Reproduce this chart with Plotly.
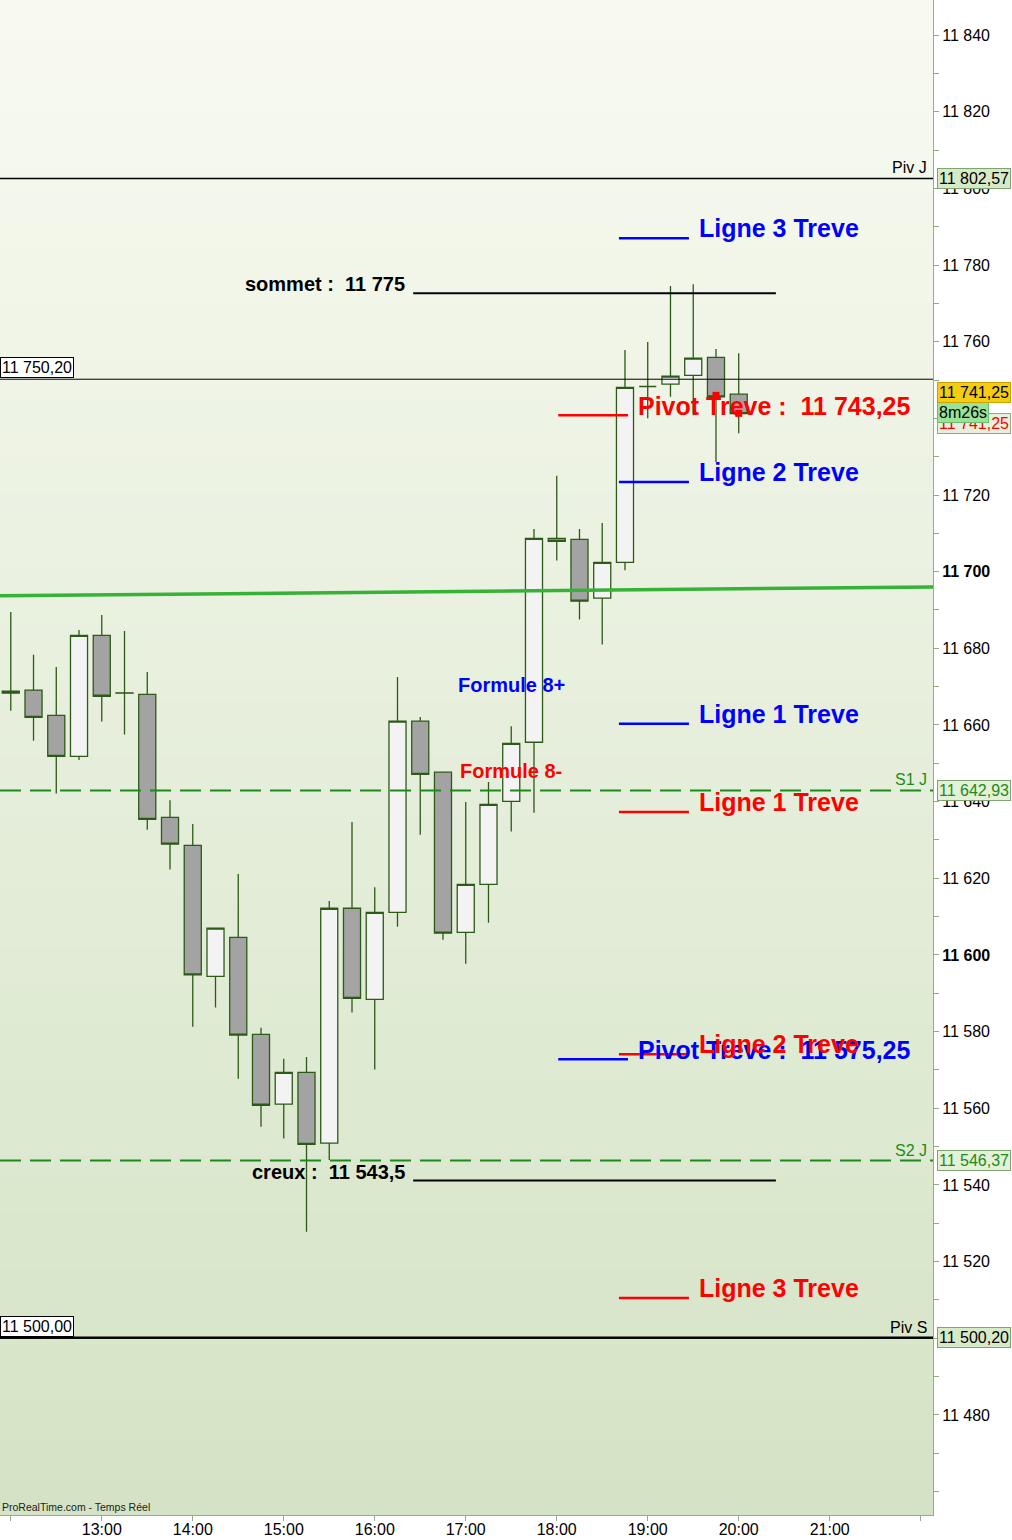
import plotly.graph_objects as go
import pandas as pd

DAY = "2024-01-02 "

# ---------------- data ----------------
candle_times = pd.date_range(DAY + "12:00", periods=33, freq="15min")
opens  = [11668.3, 11669.1, 11662.5, 11651.8, 11683.4, 11668.4, 11668.0, 11635.9,
          11628.6, 11594.4, 11604.6, 11579.3, 11561.1, 11569.4, 11550.9, 11612.2,
          11588.4, 11611.1, 11661.0, 11647.7, 11605.9, 11618.4, 11640.1, 11655.5,
          11708.7, 11708.4, 11693.1, 11702.4, 11748.3, 11748.9, 11751.2, 11755.9, 11746.3]
highs  = [11689.5, 11678.3, 11675.1, 11684.8, 11688.7, 11684.5, 11673.8, 11640.4,
          11634.2, 11607.2, 11621.1, 11581.0, 11572.9, 11573.4, 11614.1, 11634.7,
          11617.7, 11672.5, 11662.1, 11647.9, 11639.9, 11645.1, 11659.7, 11711.1,
          11725.0, 11711.1, 11712.7, 11757.8, 11759.9, 11774.5, 11775.0, 11758.1, 11757.0]
lows   = [11663.7, 11655.9, 11642.1, 11650.9, 11660.9, 11657.5, 11632.7, 11622.3,
          11581.3, 11586.3, 11567.7, 11555.2, 11552.1, 11527.8, 11546.5, 11585.0,
          11570.1, 11607.4, 11631.4, 11604.0, 11597.7, 11608.4, 11632.2, 11637.1,
          11702.9, 11687.5, 11681.0, 11700.4, 11740.0, 11745.6, 11740.8, 11728.6, 11736.1]
closes = [11668.8, 11662.0, 11651.8, 11683.4, 11667.5, 11668.3, 11635.4, 11628.9,
          11594.8, 11607.0, 11579.1, 11560.8, 11569.4, 11550.6, 11612.2, 11588.7,
          11611.1, 11661.0, 11647.1, 11605.7, 11618.4, 11639.3, 11655.2, 11708.7,
          11707.9, 11692.3, 11702.4, 11748.1, 11748.3, 11751.0, 11755.7, 11745.6, 11741.25]

# red markers on last candles
marker_times = [DAY + "19:45", DAY + "20:00"]
marker_values = [11746.0, 11741.3]

# daily pivots (right labels)
piv_names  = ["Piv J", "S1 J", "S2 J", "Piv S"]
piv_values = [11802.57, 11642.93, 11546.37, 11500.20]
piv_texts  = ["11 802,57", "11 642,93", "11 546,37", "11 500,20"]

# left boxed levels
left_values = [11750.20, 11500.00]
left_texts  = ["11 750,20", "11 500,00"]

# green trend line (left edge, right edge)
trend_values = [11693.7, 11696.0]

# Treve levels
treve_labels = ["Ligne 3 Treve", "Ligne 2 Treve", "Ligne 1 Treve",
                "Ligne 1 Treve", "Ligne 2 Treve", "Ligne 3 Treve"]
treve_values = [11787.0, 11723.4, 11660.3, 11637.3, 11574.1, 11510.5]
treve_sides  = ["up", "up", "up", "down", "down", "down"]

pivot_treve_values = [11743.25, 11575.25]
pivot_treve_texts  = ["Pivot Treve :  11 743,25", "Pivot Treve :  11 575,25"]
pivot_treve_sides  = ["down", "up"]

extreme_labels = ["sommet :  11 775", "creux :  11 543,5"]
extreme_values = [11775.0, 11543.5]

formule_labels = ["Formule 8+", "Formule 8-"]
formule_values = [11670.4, 11648.0]
formule_sides  = ["up", "down"]

last_price = 11741.25
last_price_text = "11 741,25"
timer_text = "8m26s"

y_ticks = list(range(11460, 11841, 10))
x_tick_times = [f"{h}:00" for h in range(12, 23)]

# ---------------- styles ----------------
FONT = "Arial, 'Liberation Sans', sans-serif"
SIDE_COL = {"up": "#0000ff", "down": "#ff0000"}
AXIS_COL = "#93ad89"
GREEN_TXT = "#1a8c1a"
AX_FS = 16

def T(s):
    return DAY + s

fig = go.Figure()

# gradient background
n_bands = 80
top = (248, 250, 241)
bot = (212, 227, 197)
shapes = []
for i in range(n_bands):
    f = i / (n_bands - 1)
    c = tuple(round(top[k] + (bot[k] - top[k]) * f) for k in range(3))
    shapes.append(dict(type="rect", xref="paper", yref="paper", x0=0, x1=1,
                       y1=1 - i / n_bands, y0=1 - (i + 1) / n_bands - 0.0005,
                       fillcolor="rgb(%d,%d,%d)" % c, line=dict(width=0), layer="below"))

fig.add_trace(go.Candlestick(
    x=candle_times, open=opens, high=highs, low=lows, close=closes,
    increasing=dict(fillcolor="#f3f3f3", line=dict(color="#2d5a18", width=1.3)),
    decreasing=dict(fillcolor="#a3a3a3", line=dict(color="#2d5a18", width=1.3)),
    whiskerwidth=0, showlegend=False, hoverinfo="skip"))

fig.add_trace(go.Scatter(x=marker_times, y=marker_values, mode="markers",
                         marker=dict(symbol="square", size=7, color="#ff0000"),
                         showlegend=False, hoverinfo="skip"))

annotations = []

# pivots
for name, val, txt in zip(piv_names, piv_values, piv_texts):
    is_s = name.startswith("S")
    if is_s:
        shapes.append(dict(type="line", xref="paper", x0=0, x1=1, y0=val, y1=val,
                           line=dict(color="#1a8c1a", width=2, dash="21px,9px")))
    else:
        shapes.append(dict(type="line", xref="paper", x0=0, x1=1, y0=val, y1=val,
                           line=dict(color="black", width=1.6 if name == "Piv J" else 2.2)))
    annotations.append(dict(xref="paper", x=1, xanchor="right", xshift=-4, y=val, yanchor="bottom",
                            text=name, showarrow=False,
                            font=dict(size=AX_FS, color=GREEN_TXT if is_s else "black", family=FONT)))
    annotations.append(dict(xref="paper", x=1, xanchor="left", xshift=4, y=val, yanchor="middle",
                            text=txt, showarrow=False, bgcolor="#d6eac8" if not is_s else "#e4f0d8",
                            bordercolor="#7ea56f", borderwidth=1, borderpad=1,
                            font=dict(size=AX_FS, color=GREEN_TXT if is_s else "black", family=FONT)))

# left boxed levels
for val, txt in zip(left_values, left_texts):
    shapes.append(dict(type="line", xref="paper", x0=0, x1=1, y0=val, y1=val,
                       line=dict(color="black", width=1)))
    annotations.append(dict(xref="paper", x=0, xanchor="left", y=val, yanchor="bottom", yshift=1,
                            text=txt, showarrow=False, bgcolor="white", bordercolor="black",
                            borderwidth=1, borderpad=1,
                            font=dict(size=AX_FS, color="black", family=FONT)))

# trend line
shapes.append(dict(type="line", xref="paper", x0=0, x1=1, y0=trend_values[0], y1=trend_values[1],
                   line=dict(color="#36b236", width=3.5)))

# sommet / creux
for lab, val in zip(extreme_labels, extreme_values):
    shapes.append(dict(type="line", xref="x", x0=T("16:25:20"), x1=T("20:24:30"),
                       ysizemode="pixel", yanchor=val, y0=-9, y1=-9,
                       line=dict(color="black", width=2)))
    annotations.append(dict(x=T("16:21:30"), xanchor="right", y=val, yanchor="middle",
                            text=lab, showarrow=False,
                            font=dict(size=20, color="black", family=FONT, weight="bold")))

# Pivot Treve
for val, txt, side in zip(pivot_treve_values, pivot_treve_texts, pivot_treve_sides):
    shapes.append(dict(type="line", xref="x", x0=T("18:01:00"), x1=T("18:47:00"),
                       ysizemode="pixel", yanchor=val, y0=-9.5, y1=-9.5,
                       line=dict(color=SIDE_COL[side], width=2.5)))
    annotations.append(dict(x=T("18:52:20"), xanchor="left", y=val, yanchor="middle",
                            text=txt, showarrow=False,
                            font=dict(size=25, color=SIDE_COL[side], family=FONT, weight="bold")))

# Treve lines
for lab, val, side in zip(treve_labels, treve_values, treve_sides):
    shapes.append(dict(type="line", xref="x", x0=T("18:41:00"), x1=T("19:27:10"), y0=val, y1=val,
                       line=dict(color=SIDE_COL[side], width=2.5)))
    annotations.append(dict(x=T("19:32:30"), xanchor="left", y=val, yanchor="middle", yshift=10,
                            text=lab, showarrow=False,
                            font=dict(size=25, color=SIDE_COL[side], family=FONT, weight="bold")))

# Formule
for lab, val, side in zip(formule_labels, formule_values, formule_sides):
    annotations.append(dict(x=T("17:30:00"), xanchor="center", y=val, yanchor="middle",
                            text=lab, showarrow=False,
                            font=dict(size=20, color=SIDE_COL[side], family=FONT, weight="bold")))

# last price boxes
annotations.append(dict(xref="paper", x=1, xanchor="left", xshift=4, y=last_price, yanchor="middle",
                        yshift=-9.5, text=last_price_text, showarrow=False, bgcolor="#e6f0dc",
                        bordercolor="#8aae7e", borderwidth=1, borderpad=1,
                        font=dict(size=AX_FS, color="#ff0000", family=FONT)))
annotations.append(dict(xref="paper", x=1, xanchor="left", xshift=4, y=last_price, yanchor="middle",
                        yshift=1, text=timer_text, showarrow=False, bgcolor="#98e398",
                        bordercolor="#6cbf6c", borderwidth=1, borderpad=1,
                        font=dict(size=AX_FS, color="black", family=FONT)))
annotations.append(dict(xref="paper", x=1, xanchor="left", xshift=4, y=last_price, yanchor="middle",
                        yshift=21.5, text=last_price_text, showarrow=False, bgcolor="#f4cc14",
                        bordercolor="#c9a200", borderwidth=1, borderpad=1,
                        font=dict(size=AX_FS, color="black", family=FONT)))

annotations.append(dict(xref="paper", yref="paper", x=0, y=0, xanchor="left", yanchor="bottom",
                        text="ProRealTime.com - Temps Réel", showarrow=False,
                        font=dict(size=10.5, color="#222222", family=FONT)))

# ticks
y_text = []
for v in y_ticks:
    if v % 20 != 0 or v < 11480:
        y_text.append("")
    else:
        s = f"{v // 1000} {v % 1000:03d}"
        y_text.append(f"<b>{s}</b>" if v in (11700, 11600) else s)
x_vals = [T(t) for t in x_tick_times]
x_text = ["" if t in ("12:00", "22:00") else f"{int(t.split(':')[0]):02d}:00" for t in x_tick_times]

fig.update_layout(
    width=1012, height=1540,
    margin=dict(l=0, r=79, t=0, b=25, autoexpand=False),
    paper_bgcolor="white", plot_bgcolor="#eef3e6",
    boxgap=0.25, boxgroupgap=0,
    shapes=shapes, annotations=annotations,
    font=dict(family=FONT, size=AX_FS, color="black"),
    showlegend=False,
    xaxis=dict(type="date", range=[T("11:52:54"), T("22:08:06")], rangeslider=dict(visible=False),
               tickmode="array", tickvals=x_vals, ticktext=x_text, ticks="outside", ticklen=5,
               tickcolor=AXIS_COL, showgrid=False, zeroline=False, showline=True, linecolor=AXIS_COL,
               automargin=False, ticklabelstandoff=-5,
               tickfont=dict(size=AX_FS, family=FONT, color="black")),
    yaxis=dict(side="right", range=[11453.91, 11849.13], tickmode="array", tickvals=y_ticks,
               ticktext=y_text, ticks="outside", ticklen=5, tickcolor=AXIS_COL, showgrid=False,
               zeroline=False, showline=True, linecolor=AXIS_COL, automargin=False,
               tickfont=dict(size=AX_FS, family=FONT, color="black")),
)

fig.write_html("out.html", config={"displayModeBar": False},
               post_script="document.body.style.margin='0px';")
